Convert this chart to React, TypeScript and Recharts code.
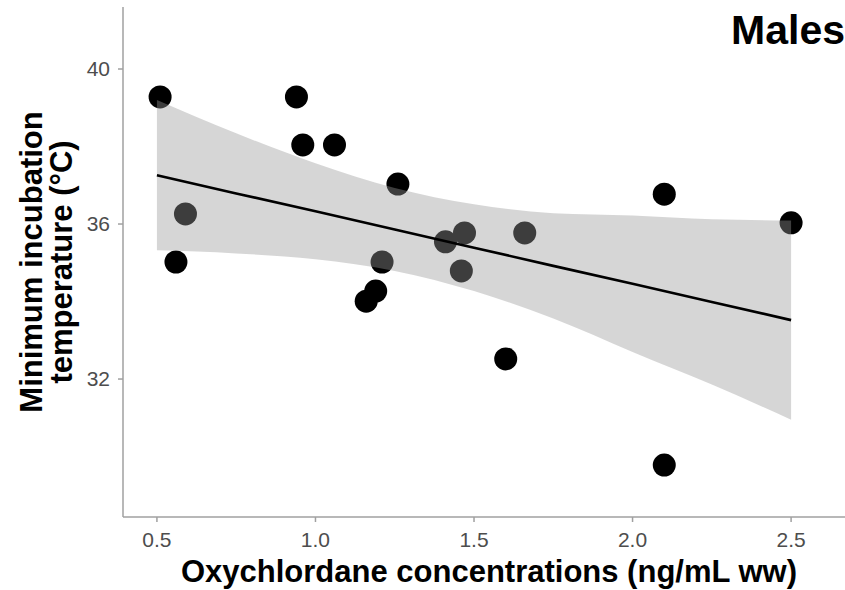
import React from 'react';
import {
  ComposedChart,
  Scatter,
  Line,
  Area,
  XAxis,
  YAxis,
  Label,
} from 'recharts';

const oxyConc = [0.51, 0.56, 0.59, 0.94, 0.96, 1.06, 1.16, 1.19, 1.21, 1.26, 1.41, 1.46, 1.47, 1.6, 1.66, 2.1, 2.1, 2.5];
const minTemp = [39.28, 35.02, 36.26, 39.28, 38.04, 38.04, 34.01, 34.27, 35.02, 37.03, 35.54, 34.79, 35.77, 32.52, 35.77, 36.77, 29.78, 36.03];

// Fitted line and its 95% band, sampled along x
const fitX = [0.5, 0.75, 1.0, 1.25, 1.5, 1.75, 2.0, 2.25, 2.5];
const fitY = [37.26, 36.79, 36.33, 35.86, 35.39, 34.92, 34.46, 33.99, 33.52];
const bandLow = [35.32, 35.24, 35.09, 34.79, 34.27, 33.56, 32.7, 31.86, 30.95];
const bandHigh = [39.2, 38.34, 37.57, 36.93, 36.51, 36.28, 36.22, 36.12, 36.09];

const xTicks = [0.5, 1.0, 1.5, 2.0, 2.5];
const yTicks = [32, 36, 40];

const points = oxyConc.map((x, i) => ({ x, y: minTemp[i] }));
const fitData = fitX.map((x, i) => ({ x, fit: fitY[i], band: [bandLow[i], bandHigh[i]] }));

const FONT = 'Liberation Sans, Arial, sans-serif';
const axisGrey = '#a0a0a0';
const X_DOMAIN: [number, number] = [0.393, 2.67];
const Y_DOMAIN: [number, number] = [28.44, 41.6];
const W = 845;
const H = 590;

if (typeof document !== 'undefined') document.body.style.margin = '0';

const YTitle = () => {
  const cy = 262;
  const style = { fontFamily: FONT, fontWeight: 'bold' as const, fontSize: 31, fill: '#000' };
  return (
    <g>
      <text x={0} y={0} transform={`translate(42, ${cy}) rotate(-90)`} textAnchor="middle" {...style}>
        Minimum incubation
      </text>
      <text x={0} y={0} transform={`translate(72, ${cy}) rotate(-90)`} textAnchor="middle" {...style}>
        temperature (°C)
      </text>
    </g>
  );
};

export default function App() {
  return (
    <div style={{ position: 'relative', width: W, height: H, background: '#fff', overflow: 'hidden' }}>
      {/* bottom layer: axes and points */}
      <ComposedChart width={W} height={H} margin={{ top: 7, right: 0, bottom: 0, left: 0 }}>
        <XAxis
          xAxisId="top"
          orientation="top"
          type="number"
          dataKey="x"
          domain={X_DOMAIN}
          height={0}
          tick={false}
          tickLine={false}
          axisLine={{ stroke: axisGrey, strokeWidth: 1.5 }}
        />
        <XAxis
          type="number"
          dataKey="x"
          domain={X_DOMAIN}
          ticks={xTicks}
          tickFormatter={(v: number) => v.toFixed(1)}
          height={73}
          tickSize={5}
          tickMargin={10}
          tick={{ fill: '#4d4d4d', fontSize: 21, fontFamily: FONT }}
          tickLine={{ stroke: axisGrey, strokeWidth: 1.5 }}
          axisLine={{ stroke: axisGrey, strokeWidth: 1.5 }}
        >
          <Label
            value="Oxychlordane concentrations (ng/mL ww)"
            position="insideBottom"
            offset={8}
            dx={5}
            style={{ fontFamily: FONT, fontWeight: 'bold', fontSize: 31, fill: '#000' }}
          />
        </XAxis>
        <YAxis
          type="number"
          domain={Y_DOMAIN}
          ticks={yTicks}
          width={123}
          tickSize={5}
          tickMargin={8}
          tick={{ fill: '#4d4d4d', fontSize: 21, fontFamily: FONT }}
          tickLine={{ stroke: axisGrey, strokeWidth: 1.5 }}
          axisLine={{ stroke: axisGrey, strokeWidth: 1.5 }}
        >
          <Label content={YTitle} />
        </YAxis>
        <Scatter
          data={points}
          dataKey="y"
          fill="#000"
          shape={(p: any) => <circle cx={p.cx} cy={p.cy} r={11.5} fill="#000" />}
          isAnimationActive={false}
        />
      </ComposedChart>

      {/* top layer: translucent confidence band and fitted line over the points */}
      <div style={{ position: 'absolute', left: 0, top: 0 }}>
        <ComposedChart width={W} height={H} data={fitData} margin={{ top: 7, right: 0, bottom: 73, left: 123 }}>
          <XAxis type="number" dataKey="x" domain={X_DOMAIN} hide />
          <YAxis type="number" domain={Y_DOMAIN} hide />
          <Area
            dataKey="band"
            type="monotone"
            stroke="none"
            fill="#999999"
            fillOpacity={0.4}
            isAnimationActive={false}
          />
          <Line
            dataKey="fit"
            type="linear"
            stroke="#000"
            strokeWidth={2.6}
            dot={false}
            isAnimationActive={false}
          />
        </ComposedChart>
      </div>

      <div
        style={{
          position: 'absolute',
          right: 0,
          top: 10,
          fontFamily: FONT,
          fontWeight: 'bold',
          fontSize: 41,
          color: '#000',
          lineHeight: 1,
        }}
      >
        Males
      </div>
    </div>
  );
}
